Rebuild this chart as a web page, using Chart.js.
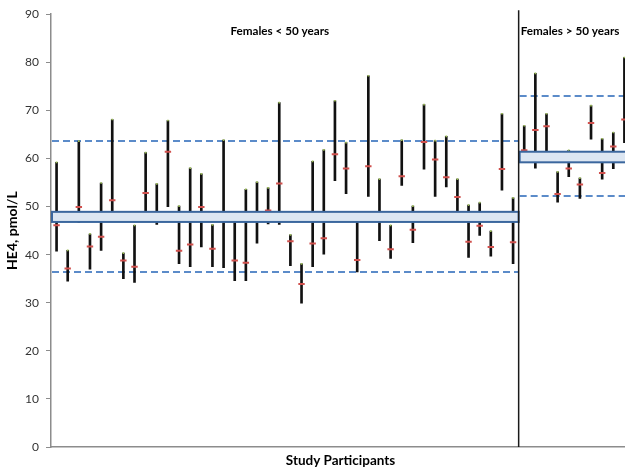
<!DOCTYPE html>
<html><head><meta charset="utf-8">
<script src="https://cdn.jsdelivr.net/npm/chart.js@4/dist/chart.umd.min.js"></script>
<style>
html,body{margin:0;padding:0;background:#fff;overflow:hidden;width:625px;height:472px}
#wrap{position:relative;width:636px;height:472px}
</style></head>
<body><div id="wrap"><canvas id="c"></canvas></div>
<script>
const categories = [1,2,3,4,5,6,7,8,9,10,11,12,13,14,15,16,17,18,19,20,21,22,23,24,25,26,27,28,29,30,31,32,33,34,35,36,37,38,39,40,41,42,43,44,45,46,47,48,49,50,51,52];
const rangeTop = [59.2,40.9,63.6,44.3,54.9,68.1,40.3,46.1,61.2,54.7,67.9,50.1,58.0,56.8,46.2,63.8,48.0,53.6,55.1,53.9,71.6,44.1,38.1,59.4,61.8,72.0,63.3,48.0,77.2,55.7,46.1,63.8,50.1,71.2,63.7,64.6,55.7,50.3,50.8,44.9,69.3,51.8,
  66.8,77.7,69.3,57.2,61.7,55.9,71.0,64.1,65.4,81.0];
const meanValue = [46.1,37.1,49.9,41.7,43.7,51.3,38.8,37.5,52.8,47.5,61.4,40.8,42.1,49.9,41.2,47.8,38.8,38.3,47.8,49.2,54.8,42.8,33.9,42.3,43.4,60.9,57.9,38.9,58.4,47.8,41.1,56.3,45.2,63.4,59.8,56.1,52.0,42.7,46.0,41.6,57.8,42.6,
  61.7,65.9,66.7,52.6,57.9,54.6,67.4,57.0,62.5,68.1];
const rangeBottom = [40.7,34.5,46.7,37.0,40.9,48.0,35.0,34.2,48.0,46.3,50.0,38.1,37.5,41.6,37.5,37.3,34.6,34.6,42.4,46.4,46.3,37.7,29.9,37.5,40.1,55.4,52.7,36.4,52.1,42.9,39.2,54.4,42.5,57.8,52.1,54.1,48.3,39.4,44.0,39.7,53.4,38.1,
  60.0,58.0,60.0,50.9,56.2,51.7,64.0,55.7,57.9,63.3];
const yTicks = [0,10,20,30,40,50,60,70,80,90];
const groupNames = ['Females < 50 years','Females > 50 years'];
const groupFirst = [0,42];
const groupLast = [41,51];
const groupMeanLow = [46.8,59.2];
const groupMeanHigh = [48.9,61.4];
const groupRefLow = [36.4,52.1];
const groupRefHigh = [63.7,73.0];

const FONT = 'Lato';

function groupEdges(chart, g){
  const x = chart.scales.x;
  const half = (x.getPixelForValue(1) - x.getPixelForValue(0)) / 2;
  return [x.getPixelForValue(groupFirst[g]) - half, x.getPixelForValue(groupLast[g]) + half];
}

const groupPlugin = {
  id: 'groups',
  beforeDatasetsDraw(chart){
    const ctx = chart.ctx, y = chart.scales.y;
    ctx.save();
    ctx.strokeStyle = '#5b8bc9';
    ctx.lineWidth = 2;
    ctx.setLineDash([7,4]);
    for (let g = 0; g < groupNames.length; g++){
      const [l, r] = groupEdges(chart, g);
      [groupRefLow[g], groupRefHigh[g]].forEach(v => {
        const py = Math.round(y.getPixelForValue(v));
        ctx.beginPath(); ctx.moveTo(l + 1, py); ctx.lineTo(r, py); ctx.stroke();
      });
    }
    ctx.restore();
  },
  afterDatasetsDraw(chart){
    const ctx = chart.ctx, y = chart.scales.y, area = chart.chartArea;
    ctx.save();
    for (let g = 0; g < groupNames.length; g++){
      const [l, r] = groupEdges(chart, g);
      const t = y.getPixelForValue(groupMeanHigh[g]);
      const b = y.getPixelForValue(groupMeanLow[g]);
      ctx.fillStyle = '#dce6f2';
      ctx.fillRect(l + 1, t, r - l - 1, b - t);
      ctx.strokeStyle = '#3b679e';
      ctx.lineWidth = 2;
      ctx.strokeRect(l + 1, t, r - l - 1, b - t);
    }
    const [, sep] = groupEdges(chart, 0);
    ctx.strokeStyle = '#1a1a1a';
    ctx.lineWidth = 1.5;
    ctx.beginPath(); ctx.moveTo(sep, area.top - 4); ctx.lineTo(sep, area.bottom); ctx.stroke();
    ctx.fillStyle = '#000';
    ctx.font = 'bold 11.7px ' + FONT;
    ctx.textBaseline = 'middle';
    const [l0, r0] = groupEdges(chart, 0);
    ctx.textAlign = 'center';
    ctx.fillText(groupNames[0], (l0 + r0) / 2 - 5, area.top + 17);
    const [l1] = groupEdges(chart, 1);
    ctx.textAlign = 'left';
    ctx.fillText(groupNames[1], l1 + 2, area.top + 17);
    ctx.restore();
  }
};

new Chart(document.getElementById('c'), {
  type: 'bar',
  data: {
    labels: categories,
    datasets: [
      { type: 'line', data: meanValue, showLine: false, pointStyle: 'line', pointRadius: 3.2,
        borderColor: '#d0504d', pointBorderColor: '#d0504d', pointBorderWidth: 2, order: 1 },
      { type: 'line', data: rangeTop, showLine: false, pointStyle: 'rect', pointRadius: 1.2,
        pointBackgroundColor: '#9bbb59', pointBorderWidth: 0, order: 2 },
      { type: 'bar', data: categories.map((c, i) => [rangeBottom[i], rangeTop[i]]),
        backgroundColor: '#111', barThickness: 2, borderWidth: 0, borderSkipped: false, order: 3 }
    ]
  },
  options: {
    responsive: true, maintainAspectRatio: false, animation: false,
    layout: { padding: { top: 12, right: 0, left: 0, bottom: 0 } },
    plugins: { legend: { display: false }, tooltip: { enabled: false } },
    scales: {
      x: {
        grid: { display: false },
        border: { display: true, color: '#8c8c8c', width: 1.5 },
        ticks: { display: false },
        title: { display: true, text: 'Study Participants', color: '#000',
          font: { family: FONT, size: 13.5, weight: 'bold' }, padding: { top: 0, bottom: 3 } },
        afterFit(s){ s.height = 25; }
      },
      y: {
        min: 0, max: 90,
        afterBuildTicks(s){ s.ticks = yTicks.map(v => ({ value: v })); },
        grid: { display: true, drawOnChartArea: false, drawTicks: true, tickLength: 5, color: '#8c8c8c', lineWidth: 1 },
        border: { display: true, color: '#8c8c8c', width: 1.5 },
        ticks: { font: { family: FONT, size: 12 }, color: '#333', padding: 7 },
        title: { display: true, text: 'HE4, pmol/L', color: '#000',
          font: { family: FONT, size: 14, weight: 'bold' }, padding: { top: 4, bottom: 0 } },
        afterFit(s){ s.width = 51; }
      }
    }
  },
  plugins: [groupPlugin]
});
</script>
</body></html>
